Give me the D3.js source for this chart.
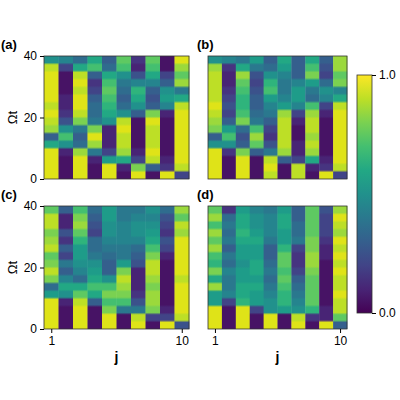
<!DOCTYPE html>
<html><head><meta charset="utf-8">
<script src="https://cdn.jsdelivr.net/npm/d3@7"></script>
<style>body{margin:0;background:#fff}text{font-family:"Liberation Sans",Arial,sans-serif}</style>
</head><body><svg id="c" width="400" height="400"></svg>
<script>
// rows: top (Ωt=40) to bottom (Ωt=0), each column j=1..10
const sites = [1,2,3,4,5,6,7,8,9,10];
const panelLabels = ["(a)","(b)","(c)","(d)"];
const yTicks = [0,20,40];
const xTicks = [1,10];
const cbTicks = [0,1];
const panelA = [
[.5,.9,.95,.95,.95,.95,.9,.95,.9,.85,.3,.6,.95,.95,.95,.95],
[.45,.2,.05,.05,.05,.1,.1,.15,.25,.5,.7,.5,.1,.05,.05,.05],
[.35,.6,.9,.95,.9,.95,.95,.9,.8,.4,.3,.35,.85,.95,.95,.95],
[.6,.7,.3,.15,.2,.3,.35,.35,.4,.8,.95,.85,.4,.1,.05,.05],
[.3,.35,.6,.7,.75,.7,.65,.6,.5,.1,.1,.1,.2,.55,.95,.95],
[.75,.7,.5,.4,.35,.3,.35,.5,.9,.95,.9,.9,.85,.6,.1,.05],
[.15,.1,.25,.45,.65,.6,.5,.3,.05,.05,.05,.05,.1,.2,.8,.95],
[.75,.7,.6,.45,.3,.25,.3,.8,.95,.9,.9,.9,.95,.9,.3,.05],
[.05,.05,.2,.3,.5,.55,.45,.1,.05,.05,.05,.05,.05,.1,.15,.95],
[.95,.85,.75,.85,.4,.6,.9,.95,.95,.95,.95,.95,.95,.95,.9,.2]];
const panelB = [
[.5,.85,.9,.9,.9,.9,.95,.9,.85,.8,.3,.5,.95,.95,.95,.95],
[.45,.15,.1,.1,.15,.2,.25,.2,.3,.55,.7,.5,.15,.05,.05,.05],
[.4,.6,.85,.75,.7,.65,.65,.7,.8,.35,.25,.3,.8,.95,.95,.95],
[.55,.4,.25,.2,.25,.3,.3,.35,.4,.7,.85,.75,.3,.05,.05,.05],
[.3,.35,.5,.65,.7,.55,.45,.4,.3,.2,.15,.25,.4,.9,.95,.9],
[.6,.55,.45,.4,.4,.45,.55,.85,.9,.9,.9,.9,.85,.3,.05,.05],
[.3,.3,.3,.45,.55,.55,.45,.2,.1,.05,.05,.1,.1,.2,.9,.9],
[.6,.7,.8,.55,.4,.35,.7,.85,.9,.9,.85,.9,.85,.6,.1,.05],
[.3,.25,.2,.35,.5,.45,.2,.1,.05,.05,.05,.05,.05,.1,.15,.95],
[.85,.85,.75,.8,.45,.6,.9,.95,.95,.95,.95,.95,.95,.95,.9,.2]];
const panelC = [
[.75,.9,.9,.8,.85,.9,.75,.8,.9,.8,.35,.55,.95,.95,.95,.95],
[.3,.1,.1,.25,.15,.3,.2,.4,.3,.45,.6,.5,.1,.05,.05,.05],
[.7,.8,.85,.75,.65,.55,.55,.5,.45,.35,.6,.75,.9,.95,.95,.95],
[.35,.3,.25,.2,.35,.35,.4,.5,.55,.6,.7,.6,.3,.05,.05,.05],
[.55,.55,.5,.5,.45,.4,.35,.3,.3,.5,.7,.8,.7,.8,.95,.95],
[.4,.4,.45,.45,.45,.4,.4,.55,.8,.9,.85,.8,.7,.4,.05,.05],
[.4,.45,.5,.5,.45,.35,.3,.25,.1,.1,.1,.15,.25,.4,.9,.95],
[.5,.45,.5,.55,.6,.7,.8,.9,.9,.85,.8,.85,.85,.8,.2,.05],
[.35,.25,.2,.15,.25,.2,.1,.05,.05,.05,.05,.05,.05,.1,.2,.95],
[.85,.75,.9,.85,.95,.95,.95,.95,.95,.9,.95,.95,.95,.95,.9,.25]];
const panelD = [
[.75,.85,.7,.85,.75,.85,.7,.65,.8,.6,.85,.55,.55,.95,.95,.95],
[.15,.35,.4,.35,.4,.3,.4,.35,.45,.4,.4,.45,.2,.05,.05,.05],
[.55,.6,.6,.65,.6,.55,.55,.5,.55,.55,.6,.6,.65,.95,.95,.95],
[.45,.5,.5,.55,.6,.55,.55,.6,.6,.55,.6,.55,.55,.2,.05,.05],
[.4,.45,.45,.45,.4,.3,.3,.35,.4,.35,.4,.45,.5,.5,.95,.95],
[.55,.6,.6,.55,.55,.65,.75,.75,.7,.75,.7,.65,.65,.55,.05,.05],
[.3,.3,.35,.35,.4,.2,.15,.15,.2,.3,.35,.4,.45,.5,.9,.95],
[.75,.75,.75,.75,.8,.8,.85,.85,.8,.75,.75,.75,.75,.65,.15,.05],
[.25,.2,.2,.2,.15,.1,.1,.05,.05,.05,.05,.05,.05,.1,.1,.95],
[.85,.95,.9,.85,.95,.9,.95,.9,.95,.9,.9,.95,.9,.9,.75,.3]];

const svg = d3.select("#c");
const defs = svg.append("defs");
const panels = [
 {d:panelA,x0:44,x1:189,y0:56,y1:179,lab:0,left:true,bottom:false},
 {d:panelB,x0:208,x1:347,y0:56,y1:179,lab:1,left:false,bottom:false},
 {d:panelC,x0:44,x1:189,y0:206,y1:329,lab:2,left:true,bottom:true},
 {d:panelD,x0:208,x1:347,y0:206,y1:329,lab:3,left:false,bottom:true}];
const color = d3.scaleSequential(d3.interpolateViridis).domain([0,1]);
panels.forEach((p,pi)=>{
  const x = d3.scaleBand().domain(sites).range([p.x0,p.x1]);
  const y = d3.scaleLinear().domain([0,40]).range([p.y1,p.y0]);
  const n = p.d[0].length;
  const g = svg.append("g");
  p.d.forEach((col,ci)=>{
    const id = `g${pi}_${ci}`;
    const lg = defs.append("linearGradient").attr("id",id).attr("x1",0).attr("x2",0).attr("y1",0).attr("y2",1);
    col.forEach((v,ri)=>{
      lg.append("stop").attr("offset",ri/n+0.15/n).attr("stop-color",color(v));
      lg.append("stop").attr("offset",(ri+1)/n-0.15/n).attr("stop-color",color(v));
    });
    g.append("rect").attr("x",x(sites[ci])).attr("width",x.bandwidth()+0.4)
     .attr("y",y(40)).attr("height",y(0)-y(40)).attr("fill",`url(#${id})`);
  });
  g.append("rect").attr("x",p.x0).attr("y",p.y0).attr("width",p.x1-p.x0).attr("height",p.y1-p.y0)
   .attr("fill","none").attr("stroke","#333").attr("stroke-width",0.8);
  if(p.left){
    const ax = svg.append("g").attr("transform",`translate(${p.x0},0)`)
      .call(d3.axisLeft(y).tickValues(yTicks).tickSize(4).tickPadding(3));
    ax.select(".domain").remove();
    ax.selectAll("text").attr("font-size",12).attr("fill","#000");
    svg.append("text").attr("transform",`translate(17,${(p.y0+p.y1)/2}) rotate(-90)`)
      .attr("text-anchor","middle").attr("font-size",13).text("Ωt");
  }
  if(p.bottom){
    const xl = d3.scalePoint().domain(sites).range([x(1)+x.bandwidth()/2, x(10)+x.bandwidth()/2]);
    const ax = svg.append("g").attr("transform",`translate(0,${p.y1})`)
      .call(d3.axisBottom(xl).tickValues(xTicks).tickSize(4).tickPadding(3));
    ax.select(".domain").remove();
    ax.selectAll("text").attr("font-size",12).attr("fill","#000");
    svg.append("text").attr("x",(p.x0+p.x1)/2).attr("y",p.y1+33).attr("text-anchor","middle")
      .attr("font-size",14).attr("font-weight","bold").text("j");
  }
  svg.append("text").attr("x",p.left?1:197).attr("y",p.y0-7).attr("font-size",13)
    .attr("font-weight","bold").text(panelLabels[p.lab]);
});
// colorbar
const cbY = d3.scaleLinear().domain([0,1]).range([313,75]);
const lg = defs.append("linearGradient").attr("id","cb").attr("x1",0).attr("x2",0).attr("y1",1).attr("y2",0);
d3.range(0,1.001,0.1).forEach(t=>lg.append("stop").attr("offset",t).attr("stop-color",color(t)));
svg.append("rect").attr("x",357).attr("y",75).attr("width",15).attr("height",238).attr("fill","url(#cb)")
  .attr("stroke","#333").attr("stroke-width",0.8);
const cax = svg.append("g").attr("transform","translate(372,0)")
  .call(d3.axisRight(cbY).tickValues(cbTicks).tickFormat(d3.format(".1f")).tickSize(4).tickPadding(3));
cax.select(".domain").remove();
cax.selectAll("text").attr("font-size",12).attr("fill","#000");
</script></body></html>
